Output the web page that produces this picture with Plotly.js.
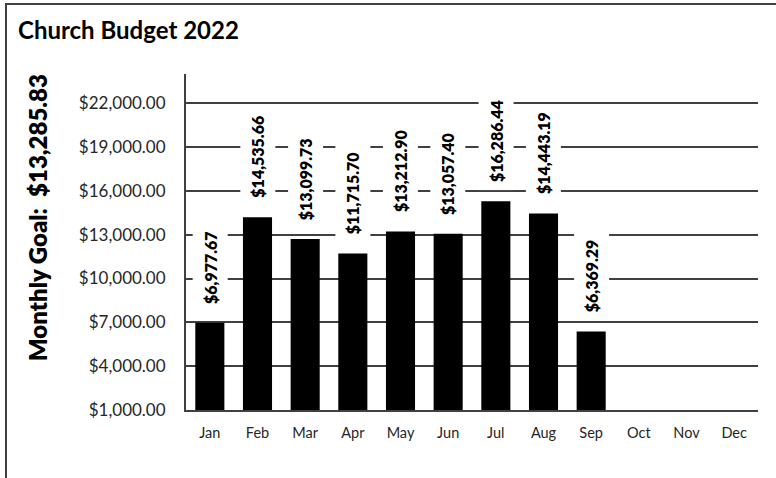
<!DOCTYPE html>
<html>
<head>
<meta charset="utf-8">
<script src="https://cdn.plot.ly/plotly-3.0.1.min.js"></script>
<style>
  html, body { margin: 0; padding: 0; background: #fff; }
  #wrap { position: relative; width: 776px; height: 478px; overflow: hidden; }
  #chart { position: absolute; left: 0; top: 0; width: 776px; height: 478px; }
  #frame { position: absolute; left: 5px; top: 3px; width: 800px; height: 500px;
           border-left: 2px solid #404040; border-top: 2px solid #404040; pointer-events: none; }
</style>
</head>
<body>
<div id="wrap">
  <div id="chart"></div>
  <div id="frame"></div>
</div>
<script>
// ---- data ----
const months = ["Jan", "Feb", "Mar", "Apr", "May", "Jun", "Jul", "Aug", "Sep", "Oct", "Nov", "Dec"];
// bar heights as drawn in the reference
const barHeights = [6977.67, 14200, 12700, 11715.70, 13212.90, 13057.40, 15290, 14443.19, 6369.29, null, null, null];
// data label texts as printed in the reference
const labelTexts = ["$6,977.67", "$14,535.66", "$13,099.73", "$11,715.70", "$13,212.90", "$13,057.40", "$16,286.44", "$14,443.19", "$6,369.29", "", "", ""];
const chartTitle = "Church Budget 2022";
const goalTitle = "Monthly Goal:  $13,285.83";

const FONT = "Lato, 'Open Sans', sans-serif";
const GRID = "#404040";

const trace = {
  type: "bar",
  x: months,
  y: barHeights,
  marker: { color: "#000000", line: { width: 0 } },
  hoverinfo: "skip"
};

const annotations = [];
months.forEach((m, i) => {
  if (barHeights[i] == null || !labelTexts[i]) return;
  annotations.push({
    x: m, y: barHeights[i], xref: "x", yref: "y",
    text: labelTexts[i], showarrow: false,
    textangle: -90, xanchor: "center", yanchor: "bottom",
    yshift: 11,
    bgcolor: "#ffffff", borderpad: 8, borderwidth: 0,
    font: { family: FONT, size: 16, color: "#000000", weight: 800 }
  });
});
annotations.push({
  x: -0.259, y: 0.573, xref: "paper", yref: "paper",
  text: goalTitle.replace(/  /g, " &nbsp;"), showarrow: false, textangle: -90,
  xanchor: "center", yanchor: "middle",
  font: { family: FONT, size: 24, color: "#000000", weight: 800 }
});

const layout = {
  width: 776, height: 478,
  margin: { l: 186, r: 18, t: 74, b: 68 },
  paper_bgcolor: "#ffffff", plot_bgcolor: "#ffffff",
  showlegend: false,
  bargap: 0.39,
  title: {
    text: "<b>" + chartTitle + "</b>",
    xref: "container", yref: "container",
    x: 18 / 776, xanchor: "left",
    y: 1 - 31 / 478, yanchor: "middle",
    font: { family: FONT, size: 24, color: "#000000" }
  },
  xaxis: {
    type: "category",
    categoryorder: "array", categoryarray: months,
    showline: true, linecolor: GRID, linewidth: 2,
    showgrid: false, ticks: "", zeroline: false,
    ticklabelstandoff: 9,
    tickfont: { family: FONT, size: 14.5, color: "#262626" },
    fixedrange: true
  },
  yaxis: {
    range: [1000, 24000],
    tick0: 1000, dtick: 3000, tickmode: "linear",
    tickprefix: "$", tickformat: ",.2f",
    showgrid: true, gridcolor: GRID, gridwidth: 2,
    showline: true, linecolor: GRID, linewidth: 2,
    zeroline: false, ticks: "",
    ticklabelstandoff: 15,
    tickfont: { family: FONT, size: 17, color: "#262626" },
    fixedrange: true
  },
  annotations: annotations
};

Plotly.newPlot("chart", [trace], layout, { displayModeBar: false, staticPlot: true });
</script>
</body>
</html>
